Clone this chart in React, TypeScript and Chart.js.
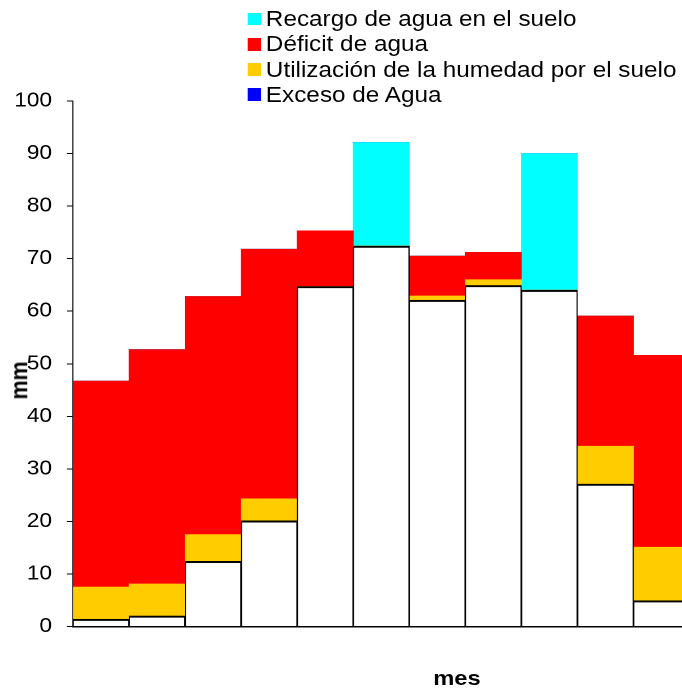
import React, { useEffect, useRef } from "react";
import { Chart, registerables } from "chart.js";

Chart.register(...registerables);

// Monthly water balance (mm), stacked from the ground up
const months = ["1", "2", "3", "4", "5", "6", "7", "8", "9", "10", "11"];
const precipitation = [1.4, 2.0, 12.4, 20.1, 64.7, 72.4, 62.1, 64.9, 64.0, 27.1, 4.9];
const soilMoistureUse = [6.1, 6.1, 5.1, 4.2, 0, 0, 0.8, 1.1, 0, 7.2, 10.2];
const waterDeficit = [39.2, 44.6, 45.3, 47.5, 10.6, 0, 7.6, 5.2, 0, 24.8, 36.5];
const soilRecharge = [0, 0, 0, 0, 0, 19.7, 0, 0, 26.0, 0, 0];
const waterSurplus = [0, 0, 0, 0, 0, 0, 0, 0, 0, 0, 0];
const yTicks = [0, 10, 20, 30, 40, 50, 60, 70, 80, 90, 100];

const series = [
  { key: "use", label: "Utilización de la humedad por el suelo", data: soilMoistureUse, color: "#FFCC00" },
  { key: "deficit", label: "Déficit de agua", data: waterDeficit, color: "#FF0000" },
  { key: "recharge", label: "Recargo de agua en el suelo", data: soilRecharge, color: "#00FFFF" },
  { key: "surplus", label: "Exceso de Agua", data: waterSurplus, color: "#0000FF" },
];
const legendOrder = ["recharge", "deficit", "use", "surplus"];

// the whole figure is drawn at this width and widened horizontally
const STRETCH = 1.13;
const W = 620;
const H = 688;
const FONT = "'Liberation Sans', Arial, sans-serif";

export default function App() {
  const canvasRef = useRef<HTMLCanvasElement | null>(null);

  useEffect(() => {
    document.body.style.margin = "0";
    document.body.style.overflow = "hidden";
    const canvas = canvasRef.current;
    if (!canvas) return;

    const chart = new Chart(canvas, {
      type: "bar",
      data: {
        labels: months,
        datasets: [
          {
            label: "Precipitación",
            data: precipitation,
            backgroundColor: "#FFFFFF",
            borderColor: "#000000",
            borderWidth: { left: 1.1, right: 1.1, top: 2, bottom: 0 },
            borderSkipped: "start",
          },
          ...series.map((s) => ({
            label: s.label,
            data: s.data,
            backgroundColor: s.color,
            borderWidth: 0,
          })),
        ],
      },
      options: {
        animation: false,
        responsive: false,
        devicePixelRatio: 2,
        layout: { padding: { top: 101, right: 9.8, bottom: 0, left: 0 } },
        datasets: {
          bar: { categoryPercentage: 1, barPercentage: 1 },
        },
        plugins: {
          legend: { display: false },
          tooltip: { enabled: false },
          title: { display: false },
        },
        scales: {
          x: {
            stacked: true,
            grid: { display: false },
            border: { display: true, color: "#000000", width: 2 },
            ticks: { display: false },
            afterFit: (axis: any) => {
              axis.height = 61.5;
            },
          },
          y: {
            stacked: true,
            min: 0,
            max: 100,
            afterBuildTicks: (axis: any) => {
              axis.ticks = yTicks.map((v) => ({ value: v }));
            },
            grid: {
              display: true,
              drawOnChartArea: false,
              drawTicks: true,
              tickLength: 5.3,
              color: "#000000",
              lineWidth: 1,
            },
            border: { display: true, color: "#1a1a1a", width: 1 },
            ticks: {
              padding: 13.3,
              color: "#000000",
              font: { family: FONT, size: 20 },
              autoSkip: false,
            },
            afterFit: (axis: any) => {
              axis.width = 64.6;
            },
          },
        },
      },
    });

    return () => {
      chart.destroy();
    };
  }, []);

  const legendItems = legendOrder.map((k) => series.find((s) => s.key === k)!);

  return (
    <div style={{ width: 682, height: H, overflow: "hidden", position: "relative" }}>
      <div
        style={{
          position: "absolute",
          left: 0,
          top: 0,
          width: W,
          height: H,
          transform: `scaleX(${STRETCH})`,
          transformOrigin: "0 0",
        }}
      >
        <canvas ref={canvasRef} width={W} height={H} />

        <div style={{ position: "absolute", left: 218.8, top: 6.3, fontFamily: FONT, fontSize: 21.5, color: "#000" }}>
          {legendItems.map((s) => (
            <div key={s.key} style={{ display: "flex", alignItems: "center", height: 25.3, whiteSpace: "nowrap" }}>
              <span style={{ display: "inline-block", width: 11.8, height: 12.7, background: s.color, marginRight: 4.7 }} />
              <span style={{ lineHeight: "24px" }}>{s.label}</span>
            </div>
          ))}
        </div>

        <div
          style={{
            position: "absolute",
            left: 404.4 - 60,
            width: 120,
            top: 667.2,
            textAlign: "center",
            fontFamily: FONT,
            fontWeight: "bold",
            fontSize: 21,
            lineHeight: "21px",
            color: "#000",
          }}
        >
          mes
        </div>

        <div
          style={{
            position: "absolute",
            left: 17.7 - 40,
            top: 380 - 10.5,
            width: 80,
            textAlign: "center",
            fontFamily: FONT,
            fontWeight: "bold",
            fontSize: 21.5,
            lineHeight: "21px",
            color: "#000",
            transform: "rotate(-90deg)",
          }}
        >
          mm
        </div>
      </div>
    </div>
  );
}
